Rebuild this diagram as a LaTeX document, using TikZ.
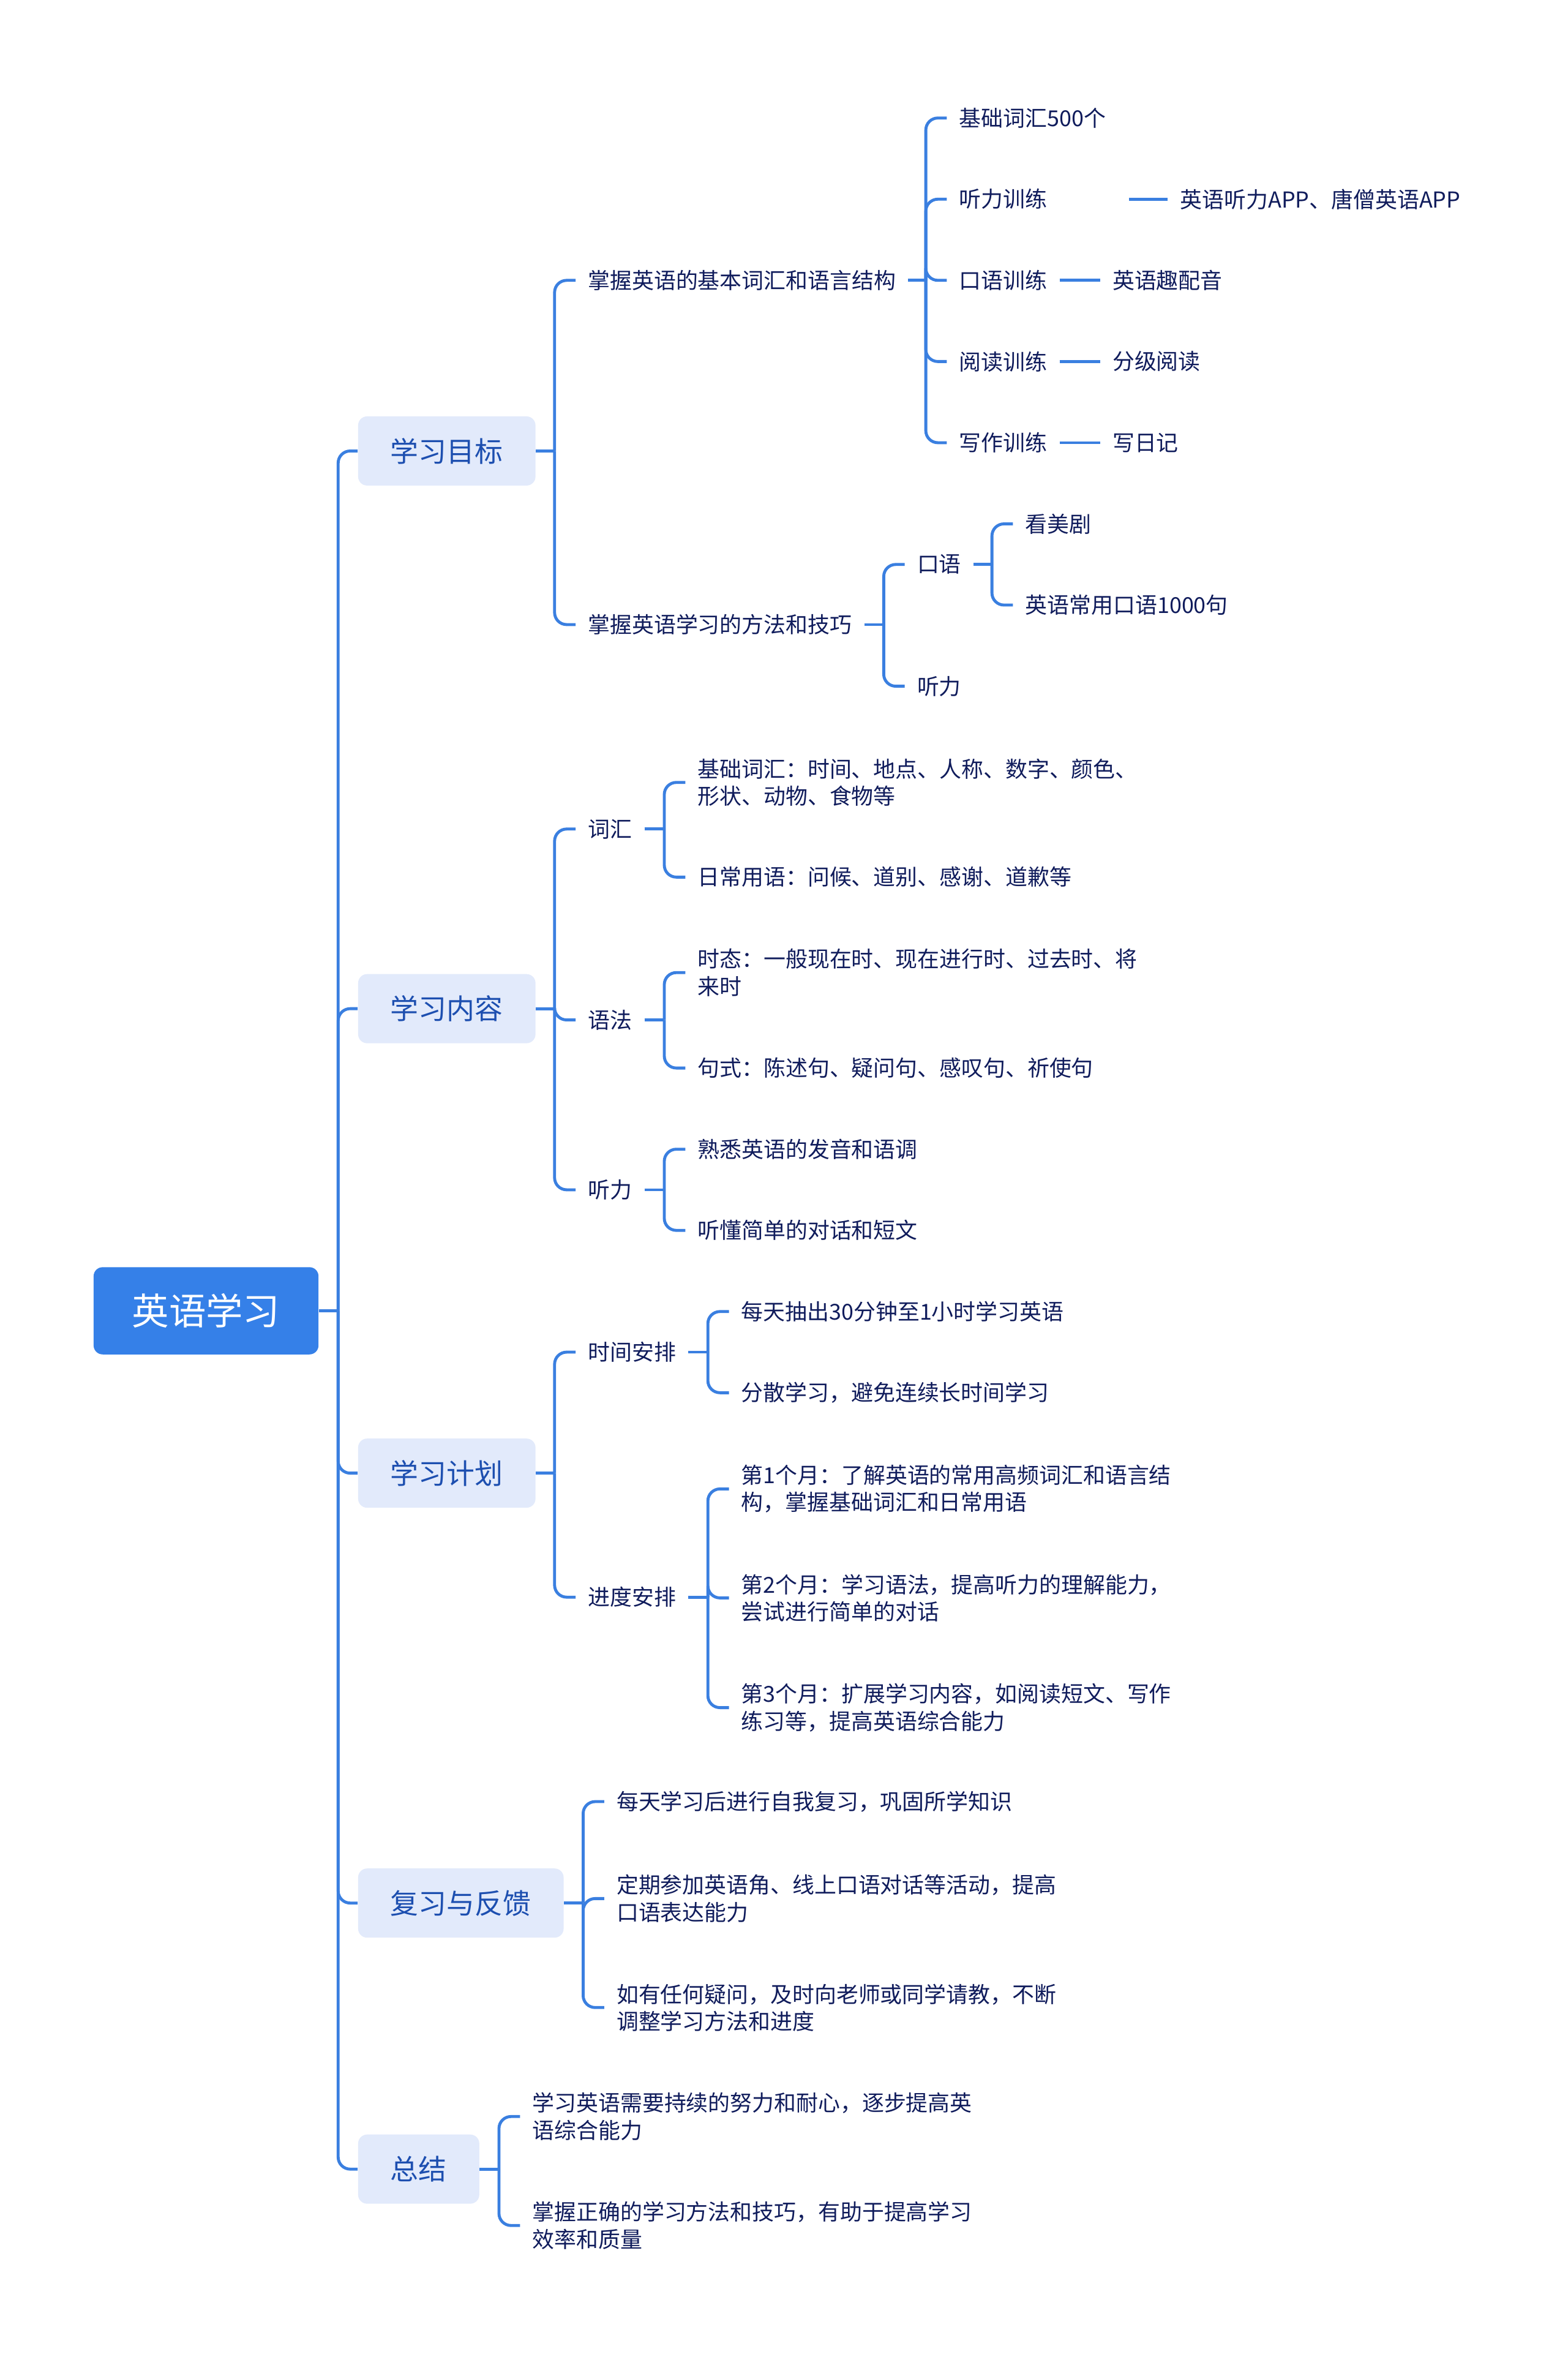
\documentclass[tikz,border=0pt]{standalone}
\usepackage{fontspec}
\setmainfont{Noto Sans CJK SC}
\usepackage{xcolor}
\usepackage{tikz}
\definecolor{MapBlue}{HTML}{3580E8}
\definecolor{MapLine}{HTML}{3A7FE0}
\definecolor{MapPale}{HTML}{E2EAFB}
\definecolor{MapTopic}{HTML}{1D4FB0}
\definecolor{MapNavy}{HTML}{101C5C}

\begin{document}
\begin{tikzpicture}[
  x=0.025cm, y=-0.025cm,
  rootbox/.style={anchor=west, fill=MapBlue, rounded corners=0.15cm, minimum height=1.45cm, inner xsep=0.64cm, text=white, font=\fontsize{17.5pt}{20pt}\selectfont},
  topic/.style={anchor=west, fill=MapPale, rounded corners=0.15cm, minimum height=1.15cm, inner xsep=0.54cm, text=MapTopic, font=\fontsize{13.3pt}{16pt}\selectfont},
  leaf/.style={anchor=west, inner sep=0pt, align=left, text=MapNavy, font=\fontsize{10.4pt}{12.8pt}\selectfont},
  link/.style={draw=MapLine, line width=1.4pt, rounded corners=0.2cm}
]
\path[use as bounding box, fill=white] (0,0) rectangle (1043,1568);

% root and main topics
\node[rootbox] (en) at (62,872) {英语学习};
\node[topic] (goal) at (238,300) {学习目标};
\node[topic] (content) at (238,671) {学习内容};
\node[topic] (plan) at (238,980) {学习计划};
\node[topic] (review) at (238,1266) {复习与反馈};
\node[topic] (summary) at (238,1443) {总结};

% 学习目标
\node[leaf] (g1) at (391,186.5) {掌握英语的基本词汇和语言结构};
\node[leaf] (g1a) at (638,78.5) {基础词汇500个};
\node[leaf] (g1b) at (638,132.5) {听力训练};
\node[leaf] (g1c) at (638,186.5) {口语训练};
\node[leaf] (g1d) at (638,240.5) {阅读训练};
\node[leaf] (g1e) at (638,294.5) {写作训练};
\node[leaf] (g1b1) at (785,132.5) {英语听力APP、唐僧英语APP};
\node[leaf] (g1c1) at (740,186.5) {英语趣配音};
\node[leaf] (g1d1) at (740,240.5) {分级阅读};
\node[leaf] (g1e1) at (740,294.5) {写日记};
\node[leaf] (g2) at (391,415.5) {掌握英语学习的方法和技巧};
\node[leaf] (g2a) at (610,375.5) {口语};
\node[leaf] (g2b) at (610,456.5) {听力};
\node[leaf] (g2a1) at (682,348.5) {看美剧};
\node[leaf] (g2a2) at (682,402.5) {英语常用口语1000句};

% 学习内容
\node[leaf] (c1) at (391,551.5) {词汇};
\node[leaf] (c1a) at (464,520.5) {基础词汇：时间、地点、人称、数字、颜色、\\形状、动物、食物等};
\node[leaf] (c1b) at (464,583.5) {日常用语：问候、道别、感谢、道歉等};
\node[leaf] (c2) at (391,678.5) {语法};
\node[leaf] (c2a) at (464,647) {时态：一般现在时、现在进行时、过去时、将\\来时};
\node[leaf] (c2b) at (464,710.5) {句式：陈述句、疑问句、感叹句、祈使句};
\node[leaf] (c3) at (391,791.5) {听力};
\node[leaf] (c3a) at (464,764.5) {熟悉英语的发音和语调};
\node[leaf] (c3b) at (464,818.5) {听懂简单的对话和短文};

% 学习计划
\node[leaf] (p1) at (391,899.5) {时间安排};
\node[leaf] (p1a) at (493,872.5) {每天抽出30分钟至1小时学习英语};
\node[leaf] (p1b) at (493,926.5) {分散学习，避免连续长时间学习};
\node[leaf] (p2) at (391,1062.5) {进度安排};
\node[leaf] (p2a) at (493,990.5) {第1个月：了解英语的常用高频词汇和语言结\\构，掌握基础词汇和日常用语};
\node[leaf] (p2b) at (493,1063) {第2个月：学习语法，提高听力的理解能力，\\尝试进行简单的对话};
\node[leaf] (p2c) at (493,1136) {第3个月：扩展学习内容，如阅读短文、写作\\练习等，提高英语综合能力};

% 复习与反馈
\node[leaf] (r1) at (410,1198.5) {每天学习后进行自我复习，巩固所学知识};
\node[leaf] (r2) at (410,1263) {定期参加英语角、线上口语对话等活动，提高\\口语表达能力};
\node[leaf] (r3) at (410,1335.5) {如有任何疑问，及时向老师或同学请教，不断\\调整学习方法和进度};

% 总结
\node[leaf] (s1) at (354,1408) {学习英语需要持续的努力和耐心，逐步提高英\\语综合能力};
\node[leaf] (s2) at (354,1480.5) {掌握正确的学习方法和技巧，有助于提高学习\\效率和质量};

% junctions
\coordinate (trunk) at (225,872);
\coordinate (goalj) at (369,300);
\coordinate (contentj) at (369,671);
\coordinate (planj) at (369,980);
\coordinate (reviewj) at (388,1266);
\coordinate (summaryj) at (332,1443);
\coordinate (g1j) at (616,186.5);
\coordinate (g2j) at (588,415.5);
\coordinate (g2aj) at (660,375.5);
\coordinate (c1j) at (442,551.5);
\coordinate (c2j) at (442,678.5);
\coordinate (c3j) at (442,791.5);
\coordinate (p1j) at (471,899.5);
\coordinate (p2j) at (471,1062.5);

% trunk
\draw[link] (en.east) -- (trunk);
\draw[link] (trunk) |- (goal.west);
\draw[link] (trunk) |- (content.west);
\draw[link] (trunk) |- (plan.west);
\draw[link] (trunk) |- (review.west);
\draw[link] (trunk) |- (summary.west);

% 学习目标 branches
\draw[link] (goal.east) -- (goalj);
\draw[link] (goalj) |- ([xshift=-0.2cm]g1.west);
\draw[link] (goalj) |- ([xshift=-0.2cm]g2.west);
\draw[link] ([xshift=0.2cm]g1.east) -- (g1j);
\draw[link] (g1j) |- ([xshift=-0.2cm]g1a.west);
\draw[link] (g1j) |- ([xshift=-0.2cm]g1b.west);
\draw[link] (g1j) |- ([xshift=-0.2cm]g1c.west);
\draw[link] (g1j) |- ([xshift=-0.2cm]g1d.west);
\draw[link] (g1j) |- ([xshift=-0.2cm]g1e.west);
\draw[link] ([xshift=1.35cm]g1b.east) -- ([xshift=-0.2cm]g1b1.west);
\draw[link] ([xshift=0.2cm]g1c.east) -- ([xshift=-0.2cm]g1c1.west);
\draw[link] ([xshift=0.2cm]g1d.east) -- ([xshift=-0.2cm]g1d1.west);
\draw[link] ([xshift=0.2cm]g1e.east) -- ([xshift=-0.2cm]g1e1.west);
\draw[link] ([xshift=0.2cm]g2.east) -- (g2j);
\draw[link] (g2j) |- ([xshift=-0.2cm]g2a.west);
\draw[link] (g2j) |- ([xshift=-0.2cm]g2b.west);
\draw[link] ([xshift=0.2cm]g2a.east) -- (g2aj);
\draw[link] (g2aj) |- ([xshift=-0.2cm]g2a1.west);
\draw[link] (g2aj) |- ([xshift=-0.2cm]g2a2.west);

% 学习内容 branches
\draw[link] (content.east) -- (contentj);
\draw[link] (contentj) |- ([xshift=-0.2cm]c1.west);
\draw[link] (contentj) |- ([xshift=-0.2cm]c2.west);
\draw[link] (contentj) |- ([xshift=-0.2cm]c3.west);
\draw[link] ([xshift=0.2cm]c1.east) -- (c1j);
\draw[link] (c1j) |- ([xshift=-0.2cm]c1a.west);
\draw[link] (c1j) |- ([xshift=-0.2cm]c1b.west);
\draw[link] ([xshift=0.2cm]c2.east) -- (c2j);
\draw[link] (c2j) |- ([xshift=-0.2cm]c2a.west);
\draw[link] (c2j) |- ([xshift=-0.2cm]c2b.west);
\draw[link] ([xshift=0.2cm]c3.east) -- (c3j);
\draw[link] (c3j) |- ([xshift=-0.2cm]c3a.west);
\draw[link] (c3j) |- ([xshift=-0.2cm]c3b.west);

% 学习计划 branches
\draw[link] (plan.east) -- (planj);
\draw[link] (planj) |- ([xshift=-0.2cm]p1.west);
\draw[link] (planj) |- ([xshift=-0.2cm]p2.west);
\draw[link] ([xshift=0.2cm]p1.east) -- (p1j);
\draw[link] (p1j) |- ([xshift=-0.2cm]p1a.west);
\draw[link] (p1j) |- ([xshift=-0.2cm]p1b.west);
\draw[link] ([xshift=0.2cm]p2.east) -- (p2j);
\draw[link] (p2j) |- ([xshift=-0.2cm]p2a.west);
\draw[link] (p2j) |- ([xshift=-0.2cm]p2b.west);
\draw[link] (p2j) |- ([xshift=-0.2cm]p2c.west);

% 复习与反馈 and 总结 branches
\draw[link] (review.east) -- (reviewj);
\draw[link] (reviewj) |- ([xshift=-0.2cm]r1.west);
\draw[link] (reviewj) |- ([xshift=-0.2cm]r2.west);
\draw[link] (reviewj) |- ([xshift=-0.2cm]r3.west);
\draw[link] (summary.east) -- (summaryj);
\draw[link] (summaryj) |- ([xshift=-0.2cm]s1.west);
\draw[link] (summaryj) |- ([xshift=-0.2cm]s2.west);
\end{tikzpicture}
\end{document}
